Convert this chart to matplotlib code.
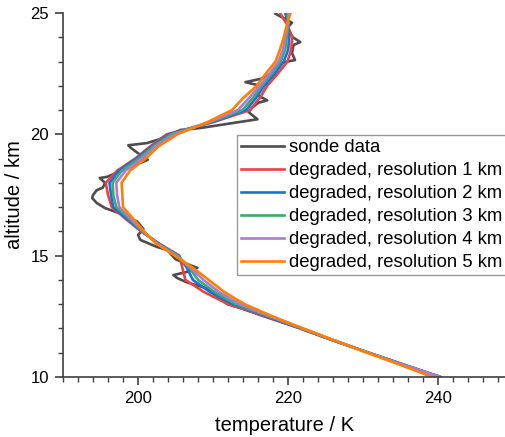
import matplotlib
matplotlib.use("Agg")
import matplotlib.pyplot as plt
from matplotlib.ticker import MultipleLocator

plt.rcParams['font.family'] = ['Liberation Sans', 'DejaVu Sans']

# sonde profile (temperature K, altitude km)
sonde_T = [240.3, 235.5, 230.7, 226.0, 221.6, 216.3, 213.6, 211.9, 209.2, 206.5,
           205.2, 204.7, 206.5, 207.9, 207.0, 205.0, 203.9, 202.5, 200.3, 200.0,
           200.7, 199.9, 197.5, 195.6, 194.5, 193.9, 194.0, 194.5, 195.3, 195.6,
           194.9, 195.9, 198.5, 201.3, 200.7, 199.0, 198.7, 201.2, 203.9, 205.6,
           208.3, 212.7, 215.9, 214.7, 215.2, 216.0, 217.2, 216.0, 215.9, 214.3,
           216.5, 217.9, 218.9, 220.9, 220.5, 220.7, 221.6, 220.6, 219.9, 220.5,
           219.3, 218.3]
sonde_alt = [10.0, 10.5, 11.0, 11.5, 12.0, 12.55, 12.85, 13.0, 13.65, 13.9,
             14.08, 14.2, 14.33, 14.5, 14.6, 14.85, 15.23, 15.36, 15.65, 15.85,
             16.1, 16.4, 16.75, 16.96, 17.17, 17.37, 17.5, 17.7, 17.8, 18.0,
             18.2, 18.25, 18.6, 18.95, 19.06, 19.45, 19.55, 19.64, 19.9, 20.18,
             20.26, 20.47, 20.62, 20.92, 21.1, 21.3, 21.4, 21.6, 22.03, 22.15,
             22.3, 22.57, 22.94, 23.06, 23.35, 23.68, 23.8, 24.0, 24.4, 24.6,
             24.8, 24.97]

# degraded profiles on a common altitude grid
alt_grid = [10.0, 10.5, 11.0, 11.5, 12.0, 12.5, 13.0, 13.5, 14.0, 14.5, 15.0,
            15.5, 16.0, 16.5, 17.0, 17.5, 18.0, 18.5, 19.0, 19.5, 20.0, 20.5,
            21.0, 21.5, 22.0, 22.5, 23.0, 23.5, 24.0, 24.5, 25.0]
res1_T = [240.2, 235.4, 230.7, 226.1, 221.6, 217.0, 212.0, 208.8, 206.3, 205.9, 205.5,
          202.8, 200.4, 198.4, 196.5, 196.0, 195.7, 197.2, 199.6, 201.6, 203.8, 210.0,
          214.9, 216.2, 217.2, 218.6, 219.9, 220.4, 220.5, 219.9, 218.9]
res2_T = [240.2, 235.4, 230.7, 226.1, 221.7, 217.2, 212.6, 209.6, 207.3, 206.5, 205.4,
          202.7, 200.5, 198.6, 196.7, 196.4, 196.2, 197.4, 199.8, 201.8, 204.1, 209.8,
          214.4, 215.7, 216.8, 218.2, 219.4, 220.0, 220.1, 220.0, 219.6]
res3_T = [240.2, 235.4, 230.7, 226.2, 221.8, 217.4, 213.0, 210.2, 208.0, 206.8, 205.3,
          202.6, 200.6, 198.9, 197.1, 196.7, 196.6, 197.8, 200.1, 202.0, 204.4, 209.6,
          213.9, 215.3, 216.5, 217.8, 219.0, 219.6, 219.8, 220.0, 219.9]
res4_T = [240.2, 235.3, 230.6, 226.2, 221.9, 217.6, 213.6, 210.8, 208.7, 207.0, 205.1,
          202.5, 200.7, 199.1, 197.5, 197.2, 197.1, 198.3, 200.5, 202.3, 204.8, 209.4,
          213.3, 214.8, 216.2, 217.5, 218.7, 219.3, 219.6, 219.9, 220.1]
res5_T = [239.2, 234.9, 230.5, 226.2, 222.0, 217.9, 214.2, 211.5, 209.4, 207.3, 204.9,
          202.4, 200.8, 199.4, 198.0, 197.9, 197.8, 198.9, 201.0, 202.7, 205.2, 209.2,
          212.5, 214.0, 215.8, 217.0, 218.3, 218.9, 219.4, 219.8, 220.3]

labels = ['sonde data', 'degraded, resolution 1 km', 'degraded, resolution 2 km',
          'degraded, resolution 3 km', 'degraded, resolution 4 km',
          'degraded, resolution 5 km']
colors = ['#4d4d4d', '#f14040', '#1a6fdf', '#37ad6b', '#b177de', '#ff8000']

fig = plt.figure(figsize=(5.06, 4.37), dpi=100)
ax = fig.add_axes([63 / 506, 60 / 437, 443 / 506, 364 / 437])

ax.plot(sonde_T, sonde_alt, color=colors[0], lw=1.9, label=labels[0])
for T, lab, c in zip([res1_T, res2_T, res3_T, res4_T, res5_T], labels[1:], colors[1:]):
    ax.plot(T, alt_grid, color=c, lw=1.9, label=lab)

ax.set_xlim(190, 249)
ax.set_ylim(10, 25)
ax.xaxis.set_major_locator(MultipleLocator(20))
ax.xaxis.set_minor_locator(MultipleLocator(2))
ax.yaxis.set_major_locator(MultipleLocator(5))
ax.yaxis.set_minor_locator(MultipleLocator(1))

for s in ['top', 'right']:
    ax.spines[s].set_visible(False)
for s in ['left', 'bottom']:
    ax.spines[s].set_color('#404040')
    ax.spines[s].set_linewidth(1.2)
ax.tick_params(which='major', length=6, width=1.2, color='#404040', labelsize=12, pad=4)
ax.tick_params(which='minor', length=3.5, width=1.0, color='#404040')

ax.set_xlabel('temperature / K', fontsize=14.5, labelpad=7)
ax.set_ylabel('altitude / km', fontsize=14.5, labelpad=5)

leg = ax.legend(loc='upper left', bbox_to_anchor=(237 / 506, 1 - 135 / 437),
                bbox_transform=fig.transFigure, borderaxespad=0, fontsize=13.3,
                frameon=True, fancybox=False, handlelength=2.35, handletextpad=0.28,
                labelspacing=0.33, borderpad=0.2, handleheight=0.6)
leg.get_frame().set_edgecolor('#808080')
leg.get_frame().set_linewidth(1.0)

fig.savefig('out.png', dpi=100)
